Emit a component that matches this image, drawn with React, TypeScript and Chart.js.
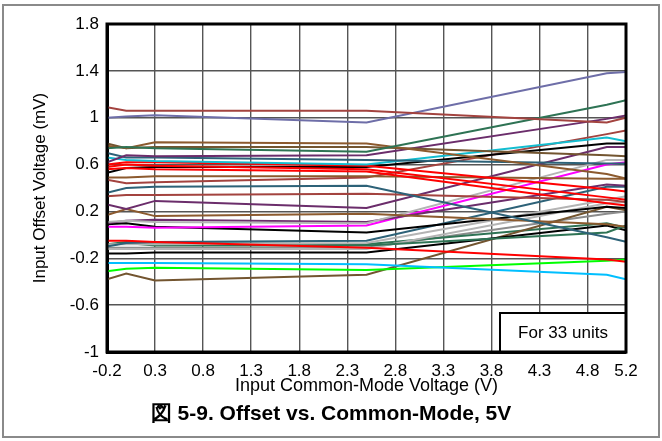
import React, { useEffect, useRef } from "react";
import { Chart, registerables } from "chart.js";

Chart.register(...registerables);

// Input common-mode voltage sample points (V)
const X_POINTS = [-0.2, 0, 0.3, 2.5, 5.0, 5.2];
const X_TICKS = [-0.2, 0.3, 0.8, 1.3, 1.8, 2.3, 2.8, 3.3, 3.8, 4.3, 4.8, 5.2];
const Y_TICKS = [-1, -0.6, -0.2, 0.2, 0.6, 1, 1.4, 1.8];

// Offset voltage (mV) for each unit
const u01 = [1.09, 1.06, 1.06, 1.06, 0.96, 1.0];
const u02 = [1.0, 1.01, 1.02, 0.96, 1.38, 1.39];
const u03 = [0.74, 0.75, 0.74, 0.71, 1.11, 1.15];
const u04 = [0.76, 0.74, 0.79, 0.78, 0.52, 0.48];
const u05 = [0.78, 0.74, 0.75, 0.75, 0.68, 0.67];
const u06 = [0.62, 0.68, 0.67, 0.68, 0.99, 1.02];
const u07 = [0.7, 0.66, 0.66, 0.64, 0.61, 0.61];
const u08 = [0.66, 0.64, 0.63, 0.6, 0.83, 0.8];
const u09 = [0.6, 0.62, 0.62, 0.59, 0.39, 0.37];
const u10 = [0.58, 0.6, 0.59, 0.56, 0.32, 0.3];
const u11 = [0.56, 0.57, 0.56, 0.54, 0.27, 0.25];
const u12 = [0.53, 0.57, 0.58, 0.58, 0.78, 0.78];
const u13 = [0.49, 0.49, 0.5, 0.5, 0.48, 0.48];
const u14 = [0.47, 0.44, 0.45, 0.49, 0.86, 0.89];
const u15 = [0.36, 0.4, 0.41, 0.42, -0.02, -0.06];
const u16 = [0.33, 0.34, 0.34, 0.35, 0.3, 0.28];
const u17 = [0.26, 0.22, 0.29, 0.23, 0.75, 0.75];
const u18 = [0.17, 0.22, 0.16, 0.18, 0.09, 0.07];
const u19 = [0.11, 0.12, 0.11, 0.1, 0.64, 0.64];
const u20 = [0.1, 0.12, 0.13, 0.11, 0.43, 0.42];
const u21 = [0.07, 0.07, 0.06, 0.08, 0.6, 0.62];
const u22 = [0.09, 0.1, 0.07, 0.02, 0.24, 0.23];
const u23 = [-0.05, -0.05, -0.06, -0.11, -0.21, -0.23];
const u24 = [-0.1, -0.07, -0.06, -0.05, 0.41, 0.41];
const u25 = [-0.08, -0.08, -0.08, -0.07, 0.3, 0.33];
const u26 = [-0.09, -0.07, -0.09, -0.09, 0.02, 0.08];
const u27 = [-0.12, -0.12, -0.12, -0.12, 0.27, 0.28];
const u28 = [-0.16, -0.16, -0.15, -0.15, 0.08, 0.04];
const u29 = [-0.24, -0.24, -0.24, -0.25, -0.34, -0.38];
const u30 = [-0.31, -0.29, -0.28, -0.3, -0.22, -0.21];
const u31 = [-0.38, -0.33, -0.39, -0.34, 0.24, 0.21];
const u32 = [-0.08, -0.06, -0.07, -0.08, 0.1, 0.06];
const u33 = [-0.11, -0.11, -0.11, -0.11, 0.18, 0.2];

const UNITS = [u01, u02, u03, u04, u05, u06, u07, u08, u09, u10, u11, u12, u13, u14, u15, u16, u17, u18, u19, u20, u21, u22, u23, u24, u25, u26, u27, u28, u29, u30, u31, u32, u33];

const C = {
  redBrown: "#A3433F",
  slate: "#6E6EA8",
  dkGreen: "#2E7354",
  brown: "#8C5A2E",
  olive: "#735530",
  purple: "#6B2D6B",
  teal: "#2D6278",
  cyan: "#13BDD0",
  red: "#FF0000",
  black: "#000000",
  magenta: "#FF00FF",
  gray: "#B4B4B4",
  dkgray: "#8C8C8C",
  sky: "#00BFFF",
  lime: "#00FF00",
};

const UNIT_COLORS = [
  C.redBrown, C.slate, C.dkGreen, C.brown, C.olive, C.purple, C.teal, C.cyan,
  C.red, C.red, C.red, C.black, C.brown, C.redBrown, C.teal, C.redBrown,
  C.purple, C.brown, C.gray, C.purple, C.magenta, C.black, C.red, C.teal,
  C.gray, C.dkGreen, C.gray, C.black, C.sky, C.lime, C.olive, C.dkGreen, C.dkgray,
];

const FONT = "'Liberation Sans', Arial, sans-serif";

export default function App() {
  const ref = useRef<HTMLCanvasElement | null>(null);

  useEffect(() => {
    if (!ref.current) return;
    const frame = {
      id: "frame",
      afterDatasetsDraw(chart: any) {
        const { ctx, chartArea: a } = chart;
        ctx.save();
        // "For 33 units" box
        const bw = 126, bh = 39;
        const bx = a.right - bw, by = a.bottom - bh;
        ctx.fillStyle = "#fff";
        ctx.fillRect(bx, by, bw, bh);
        ctx.strokeStyle = "#000";
        ctx.lineWidth = 2;
        ctx.strokeRect(bx, by, bw, bh);
        ctx.fillStyle = "#000";
        ctx.font = `17px ${FONT}`;
        ctx.textAlign = "center";
        ctx.textBaseline = "middle";
        ctx.fillText("For 33 units", bx + bw / 2, by + bh / 2 + 1);
        // plot border
        ctx.lineWidth = 3;
        ctx.strokeRect(a.left, a.top, a.right - a.left, a.bottom - a.top);
        ctx.restore();
      },
    };

    const chart = new Chart(ref.current, {
      type: "line",
      data: {
        datasets: UNITS.map((u, i) => ({
          label: `Unit ${i + 1}`,
          data: u.map((v, j) => ({ x: X_POINTS[j], y: v })),
          borderColor: UNIT_COLORS[i],
          backgroundColor: UNIT_COLORS[i],
          borderWidth: 2,
          pointRadius: 0,
          tension: 0,
          fill: false,
        })),
      },
      options: {
        animation: false,
        responsive: false,
        layout: { padding: { left: 30, right: 36, top: 24, bottom: 44 } },
        plugins: { legend: { display: false }, tooltip: { enabled: false }, title: { display: false } },
        scales: {
          x: {
            type: "linear",
            min: -0.2,
            max: 5.2,
            afterBuildTicks: (s: any) => {
              s.ticks = X_TICKS.map((v) => ({ value: v }));
            },
            afterFit: (s: any) => {
              s.height = 45;
            },
            ticks: {
              color: "#000",
              font: { size: 17, family: FONT },
              padding: 9,
              maxRotation: 0,
              autoSkip: false,
              callback: (v: any) => Number(v).toFixed(1),
            },
            grid: { color: "#555", lineWidth: 1.4, drawTicks: false },
            border: { color: "#000", width: 3 },
            title: {
              display: true,
              text: "Input Common-Mode Voltage (V)",
              color: "#000",
              font: { size: 18, family: FONT },
              padding: { top: 0, bottom: 0 },
            },
          },
          y: {
            type: "linear",
            min: -1,
            max: 1.8,
            afterBuildTicks: (s: any) => {
              s.ticks = Y_TICKS.map((v) => ({ value: v }));
            },
            afterFit: (s: any) => {
              s.width = 77;
            },
            ticks: {
              color: "#000",
              font: { size: 17, family: FONT },
              padding: 8,
              autoSkip: false,
              callback: (v: any) => String(parseFloat(Number(v).toFixed(1))),
            },
            grid: { color: "#555", lineWidth: 1.4, drawTicks: false },
            border: { color: "#000", width: 3 },
            title: {
              display: true,
              text: "Input Offset Voltage (mV)",
              color: "#000",
              font: { size: 17, family: FONT },
              padding: { top: 0, bottom: 0 },
            },
          },
        },
      },
      plugins: [frame],
    } as any);
    return () => chart.destroy();
  }, []);

  return (
    <div style={{ position: "fixed", left: 0, top: 0, width: 662, height: 441, background: "#fff" }}>
      <canvas ref={ref} width={662} height={441} style={{ position: "absolute", left: 0, top: 0, width: 662, height: 441 }} />
      <div
        style={{
          position: "absolute",
          left: 2,
          top: 4,
          width: 654,
          height: 430,
          border: "2px solid #8a8a8a",
          pointerEvents: "none",
        }}
      />
      <div
        style={{
          position: "absolute",
          left: 0,
          width: 662,
          top: 399,
          textAlign: "center",
          fontFamily: FONT,
          fontWeight: "bold",
          fontSize: 21,
          color: "#000",
        }}
      >
        図 5-9. Offset vs. Common-Mode, 5V
      </div>
    </div>
  );
}
